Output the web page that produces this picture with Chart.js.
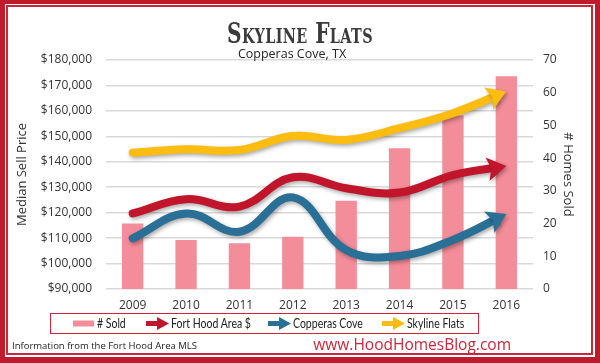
<!DOCTYPE html>
<html>
<head>
<meta charset="utf-8">
<script src="https://cdn.jsdelivr.net/npm/chart.js@4.4.1/dist/chart.umd.min.js"></script>
<style>
  html, body { margin: 0; padding: 0; background: #fff; }
  #wrap { position: relative; width: 600px; height: 363px; overflow: hidden; background: #fff; font-family: "Open Sans", sans-serif; }
  #frame { position: absolute; left: 0; top: 0; width: 600px; height: 363px; box-sizing: border-box; border-style: solid; border-color: #bf1b2c; border-width: 4px 5px 6px 5px; pointer-events: none; }
  #inner { position: absolute; left: 6px; top: 5px; width: 587px; height: 350px; box-sizing: border-box; border: 2px solid #c8283a; pointer-events: none; }
  canvas { position: absolute; left: 0; top: 0; }
  #title { position: absolute; left: 0; width: 600px; top: 19px; text-align: center; font-family: "DejaVu Serif", serif; font-weight: bold; font-variant: small-caps; font-stretch: condensed; font-size: 28px; line-height: 30px; color: #3b3b3b; letter-spacing: 0.5px; transform: scaleX(0.8); transform-origin: 300px 0; }
  #subtitle { position: absolute; left: 0; width: 584px; top: 46px; text-align: center; font-size: 12.5px; line-height: 16px; color: #222; }
  #legend { position: absolute; left: 50px; top: 313px; width: 429px; height: 21px; box-sizing: border-box; border: 1px solid #c8283a; }
  .li { position: absolute; top: 0; height: 19px; line-height: 19px; font-family: Lato, sans-serif; font-size: 12.5px; color: #222; white-space: nowrap; }
  .li svg { position: absolute; top: 3px; left: 0; }
  .li span { transform: scaleX(0.84); transform-origin: 0 0; display: inline-block; }
  #src { position: absolute; left: 12px; top: 339px; font-size: 9.5px; color: #222; }
  #web { position: absolute; right: 89px; top: 333px; font-size: 15.5px; color: #c8283a; }
</style>
</head>
<body>
<div id="wrap">
  <canvas id="c" width="600" height="363"></canvas>
  <div id="title">Skyline Flats</div>
  <div id="subtitle">Copperas Cove, TX</div>
  <div id="legend"></div>
  <div id="src">Information from the Fort Hood Area MLS</div>
  <div id="web">www.HoodHomesBlog.com</div>
  <div id="frame"></div>
  <div id="inner"></div>
</div>
<script>
// ---- data ----
const years = ["2009", "2010", "2011", "2012", "2013", "2014", "2015", "2016"];
const homesSold = [20, 15, 14, 16, 27, 43, 53, 65];
const fortHoodPrice = [119700, 125300, 122400, 133900, 129600, 127900, 134800, 138300];
const copperasPrice = [109900, 119700, 112500, 126000, 105300, 103000, 109300, 119500];
const skylinePrice = [143600, 144900, 144600, 150100, 148600, 153200, 159100, 167600];
const seriesNames = ["# Sold", "Fort Hood Area $", "Copperas Cove", "Skyline Flats"];

const colors = { bar: "#f38d99", red: "#c1152c", blue: "#296f96", yellow: "#fdbd10" };
const FONT = "'Open Sans', sans-serif";

// legend (HTML)
const legendEl = document.getElementById("legend");
const legendPos = [22, 95, 217, 331];
seriesNames.forEach((name, i) => {
  const d = document.createElement("div");
  d.className = "li";
  d.style.left = legendPos[i] + "px";
  let icon;
  if (i === 0) {
    icon = `<svg width="21" height="13"><rect x="0" y="3.5" width="21" height="6" fill="${colors.bar}"/></svg>`;
  } else {
    const col = [null, colors.red, colors.blue, colors.yellow][i];
    icon = `<svg width="23" height="13"><rect x="0" y="4" width="13" height="5" fill="${col}"/><polygon points="11,0 23,6.5 11,13" fill="${col}"/></svg>`;
  }
  d.innerHTML = icon + `<span style="position:absolute;left:${i === 0 ? 24 : 25}px;top:0">${name}</span>`;
  legendEl.appendChild(d);
});

// plugin: shadow + arrowheads for the line datasets
const arrowPlugin = {
  id: "arrows",
  beforeDatasetDraw(chart, args) {
    const ds = chart.data.datasets[args.index];
    if (ds.type !== "line") return;
    const ctx = chart.ctx;
    const pts = args.meta.data;
    const n = pts.length;
    const p = pts[n - 1], q = pts[n - 2];
    const a = Math.atan2(p.y - q.y, p.x - q.x);
    ctx.save();
    ctx.beginPath();
    ctx.rect(0, 0, chart.width, chart.height);
    const bx = p.x - Math.cos(a) * 9, by = p.y - Math.sin(a) * 9;
    const nx = -Math.sin(a) * 14, ny = Math.cos(a) * 14;
    const fx = Math.cos(a) * 40, fy = Math.sin(a) * 40;
    ctx.moveTo(bx + nx, by + ny);
    ctx.lineTo(bx + nx + fx, by + ny + fy);
    ctx.lineTo(bx - nx + fx, by - ny + fy);
    ctx.lineTo(bx - nx, by - ny);
    ctx.closePath();
    ctx.clip("evenodd");
    ctx.shadowColor = "rgba(0,0,0,0.35)";
    ctx.shadowBlur = 4;
    ctx.shadowOffsetX = 1.5;
    ctx.shadowOffsetY = 2;
  },
  afterDatasetDraw(chart, args) {
    const ds = chart.data.datasets[args.index];
    if (ds.type !== "line") return;
    const ctx = chart.ctx;
    ctx.restore();
    const pts = args.meta.data;
    const n = pts.length;
    const p = pts[n - 1], q = pts[n - 2];
    const a = Math.atan2(p.y - q.y, p.x - q.x);
    const L = 19, W = 12;
    const cx = Math.cos(a), sy = Math.sin(a);
    ctx.save();
    ctx.shadowColor = "rgba(0,0,0,0.35)";
    ctx.shadowBlur = 4;
    ctx.shadowOffsetX = 1.5;
    ctx.shadowOffsetY = 2;
    ctx.fillStyle = ds.borderColor;
    ctx.beginPath();
    ctx.moveTo(p.x, p.y);
    ctx.lineTo(p.x - cx * L - sy * W, p.y - sy * L + cx * W);
    ctx.lineTo(p.x - cx * L * 0.8, p.y - sy * L * 0.8);
    ctx.lineTo(p.x - cx * L + sy * W, p.y - sy * L - cx * W);
    ctx.closePath();
    ctx.fill();
    ctx.restore();
  }
};

const lineDs = (label, data, color, order) => ({
  type: "line", label, data, yAxisID: "y",
  borderColor: color, backgroundColor: color,
  borderWidth: 8, tension: 0.4, pointRadius: 0, fill: false, order,
  borderCapStyle: "round"
});

new Chart(document.getElementById("c"), {
  data: {
    labels: years,
    datasets: [
      { type: "bar", label: seriesNames[0], data: homesSold, yAxisID: "y1", backgroundColor: colors.bar,
        barPercentage: 0.8, categoryPercentage: 0.5, order: 10 },
      lineDs(seriesNames[1], fortHoodPrice, colors.red, 3),
      lineDs(seriesNames[2], copperasPrice, colors.blue, 2),
      lineDs(seriesNames[3], skylinePrice, colors.yellow, 1)
    ]
  },
  options: {
    responsive: false,
    animation: false,
    events: [],
    layout: { padding: { left: 8, right: 8, top: 60, bottom: 52 } },
    plugins: { legend: { display: false }, tooltip: { enabled: false } },
    scales: {
      x: {
        offset: true,
        grid: { display: false },
        border: { display: false },
        ticks: { color: "#333", font: { family: FONT, size: 12 }, padding: 1 },
        afterFit(s) { s.height = 22; }
      },
      y: {
        position: "left", min: 90000, max: 180000,
        ticks: { stepSize: 10000, color: "#333", padding: 14, font: { family: FONT, size: 12 },
          callback: v => "$" + v.toLocaleString("en-US") },
        grid: { color: "#d9d9d9", lineWidth: 1.5, drawTicks: false },
        border: { display: false },
        title: { display: true, text: "Median Sell Price", color: "#333", font: { family: FONT, size: 13 }, padding: { top: 6, bottom: 0 } },
        afterFit(s) { s.width = 98; }
      },
      y1: {
        position: "right", min: 0, max: 70,
        ticks: { stepSize: 10, color: "#333", padding: 10, font: { family: FONT, size: 12 } },
        grid: { display: false, drawTicks: false },
        border: { display: false },
        title: { display: true, text: "# Homes Sold", color: "#333", font: { family: FONT, size: 13 }, padding: { top: 16, bottom: 0 } },
        afterFit(s) { s.width = 59; }
      }
    }
  },
  plugins: [arrowPlugin]
});
</script>
</body>
</html>
